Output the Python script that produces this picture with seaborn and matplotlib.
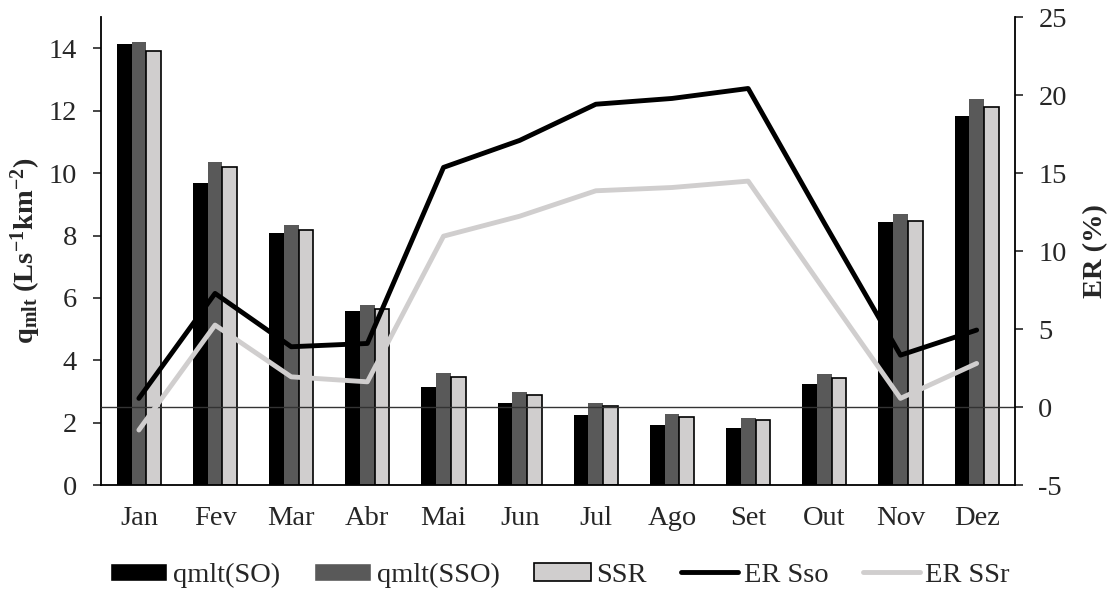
import numpy as np
import pandas as pd
import matplotlib.pyplot as plt
from matplotlib.patches import Patch
from matplotlib.lines import Line2D
import seaborn as sns

months = ['Jan', 'Fev', 'Mar', 'Abr', 'Mai', 'Jun', 'Jul', 'Ago', 'Set', 'Out', 'Nov', 'Dez']
q_so = [14.14, 9.69, 8.07, 5.57, 3.15, 2.62, 2.24, 1.94, 1.84, 3.24, 8.44, 11.83]
q_sso = [14.19, 10.36, 8.33, 5.76, 3.58, 2.99, 2.64, 2.28, 2.16, 3.56, 8.69, 12.37]
q_ssr = [13.92, 10.20, 8.19, 5.63, 3.47, 2.88, 2.53, 2.19, 2.08, 3.43, 8.47, 12.13]
er_sso = [0.56, 7.29, 3.87, 4.08, 15.37, 17.1, 19.42, 19.79, 20.43, 11.8, 3.33, 4.94]
er_ssr = [-1.47, 5.26, 1.94, 1.62, 10.96, 12.24, 13.87, 14.08, 14.49, 7.5, 0.56, 2.8]

bar_names = ['qmlt(SO)', 'qmlt(SSO)', 'SSR']
line_names = ['ER Sso', 'ER SSr']
bar_colors = ['#000000', '#595959', '#D0CECE']
line_colors = ['#000000', '#D0CECE']

sns.set_style('white')
plt.rcParams['font.family'] = ['Liberation Serif', 'DejaVu Serif']
plt.rcParams['mathtext.fontset'] = 'custom'
plt.rcParams['mathtext.rm'] = 'Liberation Serif'
plt.rcParams['mathtext.bf'] = 'Liberation Serif:bold'
plt.rcParams['mathtext.it'] = 'Liberation Serif:italic'
plt.rcParams['axes.unicode_minus'] = False

fs = 20.5

df = pd.DataFrame({'month': months, bar_names[0]: q_so, bar_names[1]: q_sso, bar_names[2]: q_ssr})
df_long = pd.melt(df, id_vars='month', var_name='serie', value_name='q')

er = pd.DataFrame({'pos': np.arange(len(months)), line_names[0]: er_sso, line_names[1]: er_ssr})
er_long = pd.melt(er, id_vars='pos', var_name='serie', value_name='er')

fig = plt.figure(figsize=(11.2, 5.93), dpi=100)
ax = fig.add_axes([0.090, 0.182, 0.816, 0.789])
sns.barplot(data=df_long, x='month', y='q', hue='serie', palette=bar_colors,
            width=0.58, saturation=1, linewidth=0, legend=False, ax=ax)
for bar in ax.containers[2]:
    bar.set_edgecolor('black')
    bar.set_linewidth(1.2)

ax2 = ax.twinx()
ax2.axhline(0, color='#333333', lw=1.0, zorder=1)
sns.lineplot(data=er_long, x='pos', y='er', hue='serie', palette=line_colors,
             lw=3.5, legend=False, ax=ax2, zorder=3)

ax.set_xlim(-0.5, 11.5)
ax.set_ylim(0, 15)
ax.set_yticks(range(0, 15, 2))
ax2.set_ylim(-5, 25)
ax2.set_yticks(range(-5, 26, 5))

for a in (ax, ax2):
    a.spines['top'].set_visible(False)
    for s in a.spines.values():
        s.set_linewidth(1.3)
        s.set_color('black')
ax2.spines['left'].set_visible(False)
ax2.spines['bottom'].set_visible(False)
ax.spines['right'].set_visible(False)

ax.tick_params(axis='y', direction='out', length=6, width=1.2, pad=11, labelsize=fs, left=True)
ax.tick_params(axis='x', length=0, pad=15, labelsize=fs)
ax2.tick_params(axis='y', direction='out', length=6, width=1.2, pad=11, labelsize=fs, right=True)

ax.set_xlabel('')
ax.set_ylabel(r'$\mathbf{q_{mlt}\ (Ls^{-1}km^{-2})}$', fontsize=fs, labelpad=4)
ax2.set_ylabel('ER (%)', fontsize=fs, fontweight='bold', labelpad=12)

handles = [Patch(facecolor=bar_colors[0]), Patch(facecolor=bar_colors[1]),
           Patch(facecolor=bar_colors[2], edgecolor='black', linewidth=1.2),
           Line2D([], [], color=line_colors[0], lw=3.5), Line2D([], [], color=line_colors[1], lw=3.5)]
fig.legend(handles, bar_names + line_names, loc='center', bbox_to_anchor=(0.5, 0.03), ncol=5,
           frameon=False, fontsize=fs, handlelength=2.0, handleheight=0.6,
           handletextpad=0.2, columnspacing=1.2)

fig.savefig('out.png', dpi=100)
